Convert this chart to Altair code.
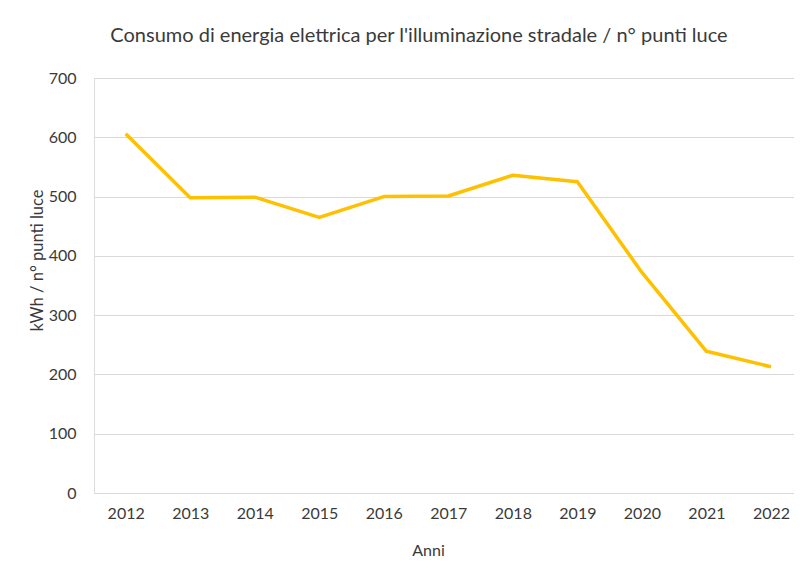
import altair as alt
import pandas as pd

anni = ["2012", "2013", "2014", "2015", "2016", "2017", "2018", "2019", "2020", "2021", "2022"]
consumo = [606, 498, 499, 465, 500, 501, 536, 525, 372, 239, 213]
y_ticks = [0, 100, 200, 300, 400, 500, 600, 700]

df = pd.DataFrame({"Anno": anni, "kWh": consumo})

FONT = "Lato"
TXT = "#3a3a3a"

chart = (
    alt.Chart(df)
    .mark_line(color="#FFC000", strokeWidth=3.5, strokeJoin="round")
    .encode(
        x=alt.X(
            "Anno:O",
            sort=anni,
            scale=alt.Scale(type="point", padding=0.424, align=0.579),
            axis=alt.Axis(
                title="Anni",
                labelAngle=0,
                domain=False,
                ticks=False,
                grid=False,
                labelPadding=12,
                labelFontSize=16,
                labelFont=FONT,
                labelColor=TXT,
                titleFont=FONT,
                titleFontSize=16,
                titleFontWeight="normal",
                titleColor=TXT,
                titleX=334,
                titleY=57,
                titleBaseline="middle",
                titleAlign="center",
            ),
        ),
        y=alt.Y(
            "kWh:Q",
            scale=alt.Scale(domain=[0, 700], nice=False),
            axis=alt.Axis(
                title="kWh / n° punti luce",
                values=y_ticks,
                domain=False,
                ticks=False,
                grid=True,
                gridColor="#D9D9D9",
                gridWidth=1,
                labelPadding=18,
                labelFontSize=16,
                labelFont=FONT,
                labelColor=TXT,
                titleFont=FONT,
                titleFontSize=16.5,
                titleFontWeight="normal",
                titleColor=TXT,
                titleAngle=270,
                titleX=-57,
                titleY=182,
                titleBaseline="middle",
                titleAlign="center",
            ),
        ),
    )
    .properties(
        width=700,
        height=415,
        autosize="none",
        padding={"left": 86, "top": 70, "right": 0, "bottom": 70},
        title=alt.TitleParams(
            "Consumo di energia elettrica per l'illuminazione stradale / n° punti luce",
            font=FONT,
            fontSize=20,
            fontWeight="normal",
            color=TXT,
            anchor="middle",
            dx=-25,
            offset=24,
        ),
    )
    .configure_view(stroke=None)
    .configure(background="white")
)

chart.save("out.html", embed_options={"renderer": "svg", "actions": False})
